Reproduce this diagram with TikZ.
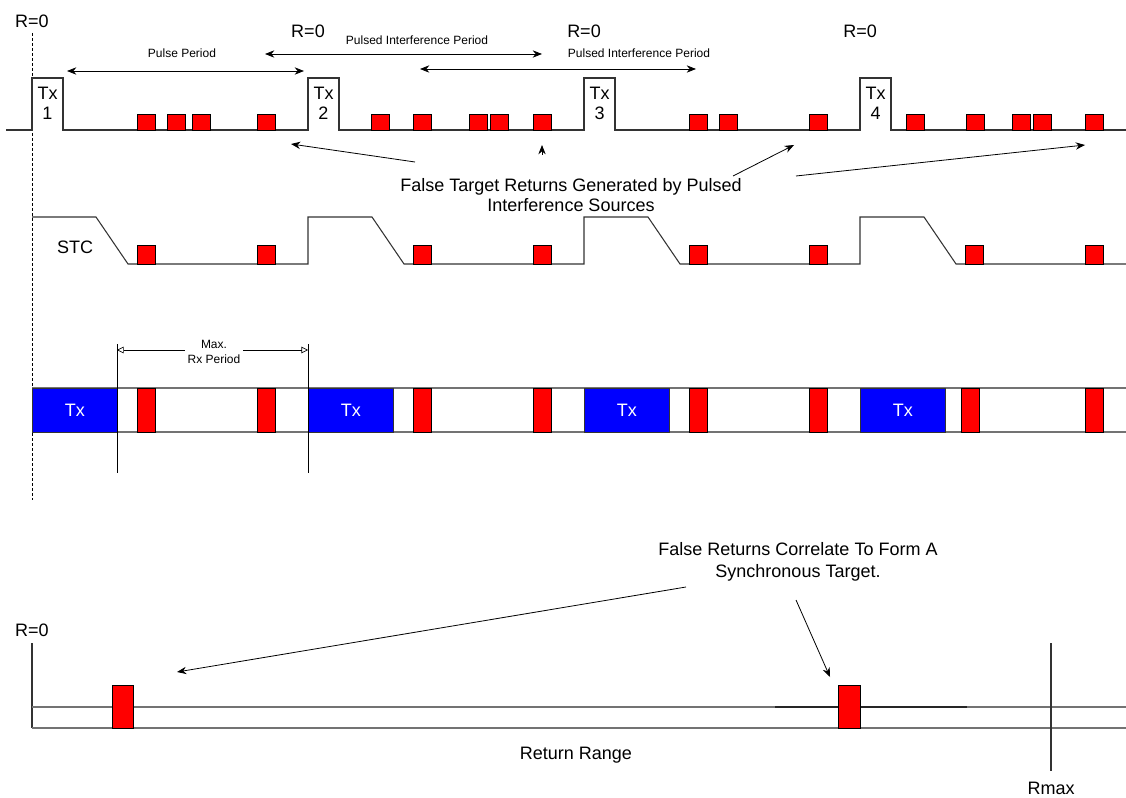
\documentclass[tikz,border=0pt]{standalone}
\usepackage{fontspec}
\setmainfont{Liberation Sans}
\usetikzlibrary{arrows.meta}

\begin{document}
\begin{tikzpicture}[x=0.75pt, y=-0.75pt,
  every node/.style={font=\fontsize{13.5}{15}\selectfont, inner sep=0pt},
  small/.style={font=\fontsize{9}{11}\selectfont},
  trace/.style={draw=black!80, line width=0.8pt},
  rail/.style={draw=black!55, line width=1pt},
  echo/.style={draw=black, fill=red, line width=0.6pt},
  txblock/.style={draw=black!80, fill=blue, text=white, line width=0.6pt,
    minimum width=63.75pt, minimum height=33pt, anchor=north west},
  pointer/.style={-{Stealth[length=7pt,width=5.5pt]}, line width=0.6pt},
  span/.style={{Stealth[length=7pt,width=5.5pt]}-{Stealth[length=7pt,width=5.5pt]}, line width=0.6pt},
  openspan/.style={-{Triangle[open,length=5pt,width=5pt]}, line width=0.5pt}]
  \useasboundingbox (0,0) rectangle (1126,798);

  % range zero reference
  \draw[dash pattern=on 2.25pt off 1.5pt, line width=0.5pt] (32,33) -- (32,500);
  \node (r0a) at (32,21) {R=0};
  \foreach \t/\n in {308/b,584/c,860/d}
    \node (r0\n) at (\t,31) {R=0};

  % transmit pulses with interference returns
  \draw[trace] (6,130) \foreach \t in {32,308,584,860} {
    -- (\t,130) -- (\t,78) -- (\t+31,78) -- (\t+31,130) } -- (1126,130);
  \foreach \t/\n in {32/1,308/2,584/3,860/4}
    \node[align=center] (tx\n) at (\t+15.5,103) {Tx\\\n};
  \foreach \x in {137,167,192,257,371,413,469,490,533,689,719,809,906,966,1012,1033,1085}
    \draw[echo] (\x,114) rectangle +(18,16);

  % periods
  \node[small] (pp) at (182,53) {Pulse Period};
  \coordinate (ppa) at (67,71);
  \coordinate (ppb) at (304,71);
  \draw[span] (ppa) -- (ppb);
  \node[small] (pia) at (417,40) {Pulsed Interference Period};
  \coordinate (pia1) at (265,54);
  \coordinate (pia2) at (542,54);
  \draw[span] (pia1) -- (pia2);
  \node[small] (pib) at (639,53) {Pulsed Interference Period};
  \coordinate (pib1) at (420,69);
  \coordinate (pib2) at (696,69);
  \draw[span] (pib1) -- (pib2);

  % false targets
  \node[align=center] (fts) at (571,195) {False Target Returns Generated by Pulsed\\Interference Sources};
  \coordinate (fa1) at (415,162);
  \coordinate (fa2) at (291,144);
  \coordinate (fb1) at (542,155);
  \coordinate (fb2) at (542,145);
  \coordinate (fc1) at (733,176);
  \coordinate (fc2) at (794,145);
  \coordinate (fd1) at (796,176);
  \coordinate (fd2) at (1085,145);
  \draw[pointer] (fa1) -- (fa2);
  \draw[pointer] (fb1) -- (fb2);
  \draw[pointer] (fc1) -- (fc2);
  \draw[pointer] (fd1) -- (fd2);

  % STC
  \draw[trace] (32,217) -- (96,217) -- (128,264) \foreach \t in {308,584,860} {
    -- (\t,264) -- (\t,217) -- (\t+64,217) -- (\t+96,264) } -- (1126,264);
  \node (stc) at (75,247) {STC};
  \foreach \t in {32,308,584,860} {
    \draw[echo] (\t+105,245) rectangle +(18,19);
    \draw[echo] (\t+225,245) rectangle +(18,19);
  }

  % receive windows
  \draw[rail] (32,388) -- (1126,388);
  \draw[rail] (32,432) -- (1126,432);
  \foreach \t/\n in {32/1,308/2,584/3,860/4}
    \node[txblock] (blk\n) at (\t,388) {Tx};
  \foreach \x in {137,257,413,533,689,809,961,1085}
    \draw[echo] (\x,388) rectangle +(18,44);
  \draw[line width=0.5pt] (117,344) -- (117,473);
  \draw[line width=0.5pt] (308,344) -- (308,473);
  \node[small, align=center, inner sep=2pt] (mrx) at (214,352) {Max.\\Rx Period};
  \coordinate (rxl) at (117,350);
  \coordinate (rxr) at (308,350);
  \draw[openspan] (mrx.west |- rxl) -- (rxl);
  \draw[openspan] (mrx.east |- rxr) -- (rxr);

  % correlated range
  \node (r0e) at (32,630) {R=0};
  \draw[trace] (32,643) -- (32,728);
  \draw[rail] (32,707) -- (1126,707);
  \draw[rail] (32,728) -- (1126,728);
  \draw[black!85, line width=1pt] (775,707) -- (967,707);
  \draw[echo] (112,685) rectangle (133,728);
  \draw[echo] (838,685) rectangle (860,728);
  \draw[trace] (1051,643) -- (1051,771);
  \node (rr) at (576,755) {Return Range};
  \node (rmax) at (1051,788) {Rmax};
  \node[align=center, font=\fontsize{13.5}{16.5}\selectfont] (sync) at (798,562) {False Returns Correlate To Form A\\Synchronous Target.};
  \coordinate (sa1) at (686,587);
  \coordinate (sa2) at (177,672);
  \coordinate (sb1) at (796,600);
  \coordinate (sb2) at (830,677);
  \draw[pointer] (sa1) -- (sa2);
  \draw[pointer] (sb1) -- (sb2);
\end{tikzpicture}
\end{document}
